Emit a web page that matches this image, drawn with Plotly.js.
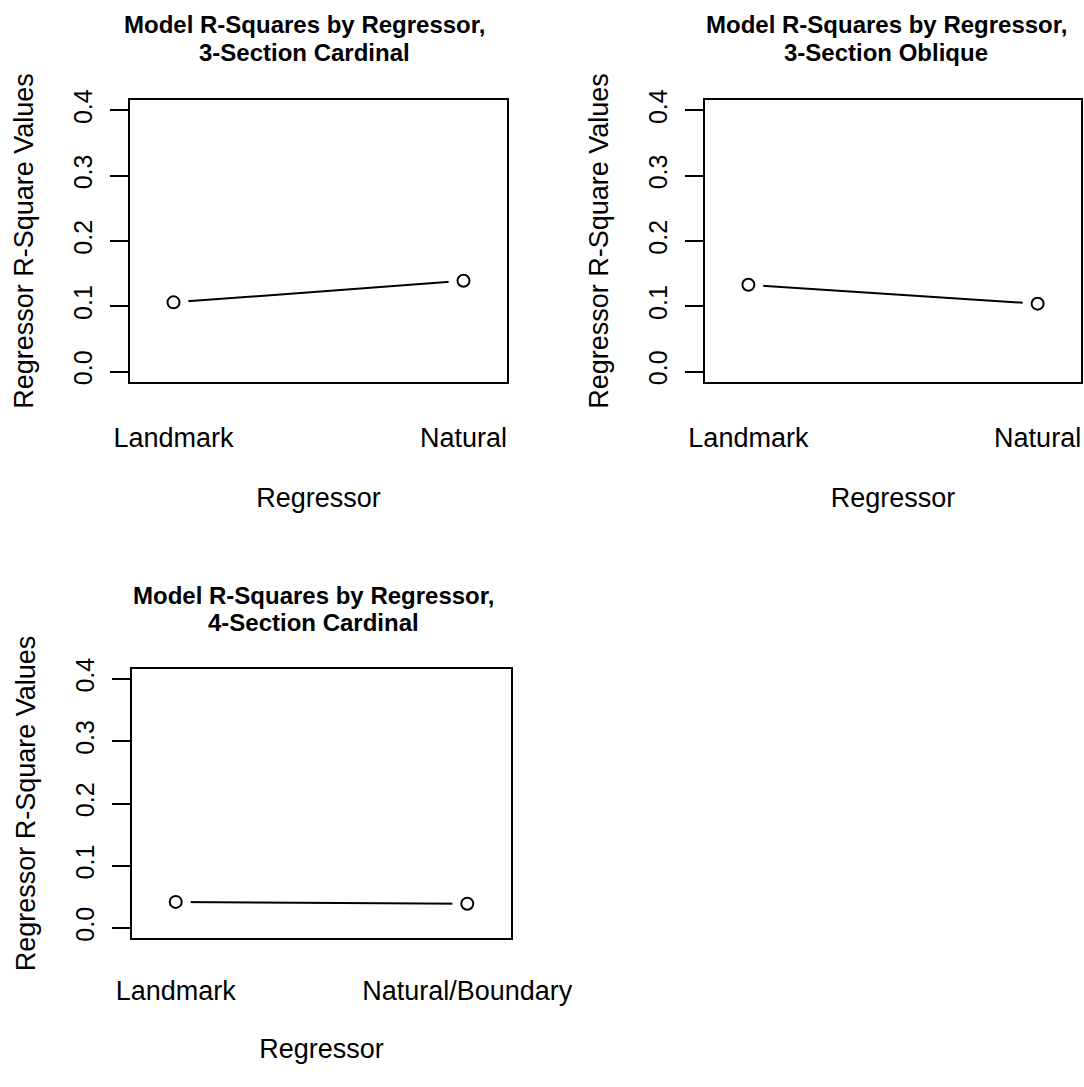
<!DOCTYPE html>
<html>
<head>
<meta charset="utf-8">
<script src="https://cdn.plot.ly/plotly-3.0.1.min.js"></script>
<style>
  html, body { margin: 0; padding: 0; background: #ffffff; }
  #chart { width: 1084px; height: 1087px; }
</style>
</head>
<body>
<div id="chart"></div>
<script>
// ---------- data ----------
const categories3Cardinal = ["Landmark", "Natural"];
const rsq3Cardinal = [0.106, 0.139];

const categories3Oblique = ["Landmark", "Natural"];
const rsq3Oblique = [0.133, 0.104];

const categories4Cardinal = ["Landmark", "Natural/Boundary"];
const rsq4Cardinal = [0.042, 0.039];

const yTickValues = [0, 0.1, 0.2, 0.3, 0.4];
const yTickLabels = ["0.0", "0.1", "0.2", "0.3", "0.4"];

const title3Cardinal = ["Model R-Squares by Regressor,", "3-Section Cardinal"];
const title3Oblique = ["Model R-Squares by Regressor,", "3-Section Oblique"];
const title4Cardinal = ["Model R-Squares by Regressor,", "4-Section Cardinal"];

const xAxisLabel = "Regressor";
const yAxisLabel = "Regressor R-Square Values";

// ---------- layout helpers ----------
const W = 1084, H = 1087;
const FONT = "Liberation Sans, Arial, Helvetica, sans-serif";
const fx = p => p / W;
const fy = p => 1 - p / H;

const panels = [
  { cats: categories3Cardinal, vals: rsq3Cardinal, title: title3Cardinal, box: [130, 507, 100, 382],
    titleX: 304, titleY: [25, 52], labGap: 31, ttlGap: 36, sfx: "" },
  { cats: categories3Oblique, vals: rsq3Oblique, title: title3Oblique, box: [705, 1081, 100, 382],
    titleX: 886, titleY: [25, 52], labGap: 31, ttlGap: 36, sfx: "2" },
  { cats: categories4Cardinal, vals: rsq4Cardinal, title: title4Cardinal, box: [132, 511, 669, 938],
    titleX: 313, titleY: [595, 622], labGap: 28, ttlGap: 34, sfx: "3" }
];

const data = [];
const layout = {
  width: W, height: H,
  margin: { l: 0, r: 0, t: 0, b: 0 },
  paper_bgcolor: "#ffffff",
  plot_bgcolor: "#ffffff",
  showlegend: false,
  font: { family: FONT, color: "#000000", size: 26 },
  annotations: []
};

panels.forEach(p => {
  const xa = "x" + p.sfx, ya = "y" + p.sfx;
  // connecting line
  data.push({ type: "scatter", mode: "lines", x: p.cats, y: p.vals, xaxis: xa, yaxis: ya,
    line: { color: "#000000", width: 2 }, hoverinfo: "skip" });
  // white gap around the points (R type = "b")
  data.push({ type: "scatter", mode: "markers", x: p.cats, y: p.vals, xaxis: xa, yaxis: ya,
    marker: { symbol: "circle", size: 30, color: "#ffffff", line: { width: 0 } }, hoverinfo: "skip" });
  // open points
  data.push({ type: "scatter", mode: "markers", x: p.cats, y: p.vals, xaxis: xa, yaxis: ya,
    marker: { symbol: "circle-open", size: 12, color: "#000000", line: { width: 2, color: "#000000" } } });

  const [l, r, t, b] = p.box;
  layout["xaxis" + p.sfx] = {
    domain: [fx(l), fx(r)], anchor: ya, type: "category",
    range: [-0.15, 1.15], automargin: false,
    showline: true, mirror: true, linecolor: "#000000", linewidth: 2,
    showgrid: false, zeroline: false, ticks: "",
    ticklabelstandoff: p.labGap,
    tickfont: { family: FONT, size: 27, color: "#000000" },
    title: { text: xAxisLabel, font: { family: FONT, size: 27, color: "#000000" }, standoff: p.ttlGap }
  };
  layout["yaxis" + p.sfx] = {
    domain: [fy(b), fy(t)], anchor: xa,
    range: [-0.016, 0.416], automargin: false,
    tickmode: "array", tickvals: yTickValues, ticktext: yTickLabels,
    ticks: "outside", ticklen: 18, tickwidth: 2, tickcolor: "#000000",
    tickangle: -90, ticklabelstandoff: 8,
    showline: true, mirror: true, linecolor: "#000000", linewidth: 2,
    showgrid: false, zeroline: false,
    tickfont: { family: FONT, size: 25, color: "#000000" },
    title: { text: yAxisLabel, font: { family: FONT, size: 27, color: "#000000" }, standoff: 28 }
  };
  p.title.forEach((line, i) => {
    layout.annotations.push({
      text: "<b>" + line + "</b>", xref: "paper", yref: "paper",
      x: fx(p.titleX), y: fy(p.titleY[i]), xanchor: "center", yanchor: "middle",
      showarrow: false, font: { family: FONT, size: 24, color: "#000000" }
    });
  });
});

Plotly.newPlot("chart", data, layout, { staticPlot: true, displayModeBar: false });
</script>
</body>
</html>
